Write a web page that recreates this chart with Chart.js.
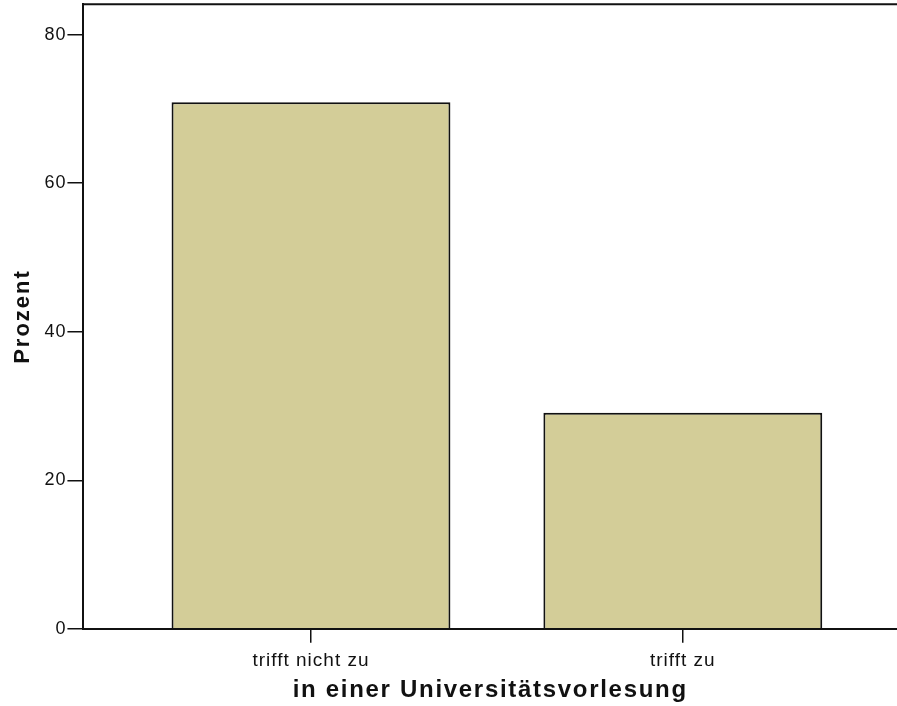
<!DOCTYPE html>
<html>
<head>
<meta charset="utf-8">
<script src="https://cdn.jsdelivr.net/npm/chart.js@4"></script>
<style>
  html, body { margin: 0; padding: 0; background: #fff; }
  #wrap { width: 897px; height: 706px; }
</style>
</head>
<body>
<div id="wrap"><canvas id="chart"></canvas></div>
<script>
// Daten
const categories = ['trifft nicht zu', 'trifft zu'];
const positions = [1, 2];
const prozent = [70.9, 29.1];
const yTicks = [0, 20, 40, 60, 80];

// SPSS-Schrift wirkt breit gezogen: Zeichenabstand je Achse
const spacingPlugin = {
  id: 'spacing',
  beforeDraw(chart) {
    const cfg = { x: ['1px', '1.7px'], y: ['1px', '2px'] };
    Object.keys(cfg).forEach(id => {
      const s = chart.scales[id];
      if (!s || s._spaced) return;
      const dl = s.drawLabels, dt = s.drawTitle;
      s.drawLabels = function (a) {
        const c = this.ctx; c.letterSpacing = cfg[id][0]; dl.call(this, a); c.letterSpacing = '0px';
      };
      s.drawTitle = function (a) {
        const c = this.ctx; c.letterSpacing = cfg[id][1]; dt.call(this, a); c.letterSpacing = '0px';
      };
      s._spaced = true;
    });
  }
};

// obere Rahmenlinie
const frameTop = {
  id: 'frameTop',
  afterDraw(chart) {
    const { ctx, chartArea } = chart;
    ctx.save();
    ctx.strokeStyle = '#111';
    ctx.lineWidth = 2;
    ctx.beginPath();
    ctx.moveTo(chartArea.left - 1, chartArea.top);
    ctx.lineTo(chartArea.right, chartArea.top);
    ctx.stroke();
    ctx.restore();
  }
};

new Chart(document.getElementById('chart'), {
  type: 'bar',
  data: {
    datasets: [{
      label: 'Prozent',
      data: positions.map((x, i) => ({ x: x, y: prozent[i] })),
      backgroundColor: '#d3cd98',
      borderColor: '#111',
      borderWidth: 2,
      barPercentage: 1,
      categoryPercentage: 0.75
    }]
  },
  options: {
    responsive: true,
    maintainAspectRatio: false,
    animation: false,
    layout: { padding: { top: 4, right: 0, left: 10, bottom: 4 } },
    plugins: {
      legend: { display: false },
      tooltip: { enabled: false }
    },
    scales: {
      x: {
        type: 'linear',
        min: 0.388,
        max: 2.576,
        offset: false,
        afterBuildTicks: axis => { axis.ticks = positions.map(v => ({ value: v })); },
        ticks: {
          callback: v => categories[positions.indexOf(v)] || '',
          color: '#111',
          font: { family: 'Liberation Sans', size: 19, lineHeight: 0.8 },
          padding: 10,
          maxRotation: 0,
          autoSkip: false
        },
        grid: { offset: false, drawOnChartArea: false, drawTicks: true, tickLength: 14, color: '#111', lineWidth: 1.5 },
        border: { color: '#111', width: 2 },
        title: {
          display: true,
          text: 'in einer Universitätsvorlesung',
          color: '#111',
          font: { family: 'Liberation Sans', size: 24, weight: 'bold', lineHeight: 1 },
          padding: { top: 0, bottom: 0 }
        }
      },
      y: {
        min: 0,
        max: 84.1,
        afterBuildTicks: axis => { axis.ticks = yTicks.map(v => ({ value: v })); },
        ticks: {
          color: '#111',
          font: { family: 'Liberation Sans', size: 18, lineHeight: 0.35 },
          padding: 1
        },
        grid: { drawOnChartArea: false, drawTicks: true, tickLength: 16, color: '#111', lineWidth: 1.5 },
        border: { color: '#111', width: 2 },
        title: {
          display: true,
          text: 'Prozent',
          color: '#111',
          font: { family: 'Liberation Sans', size: 22, weight: 'bold' },
          padding: { top: 0, bottom: 9 }
        }
      }
    }
  },
  plugins: [spacingPlugin, frameTop]
});
</script>
</body>
</html>
